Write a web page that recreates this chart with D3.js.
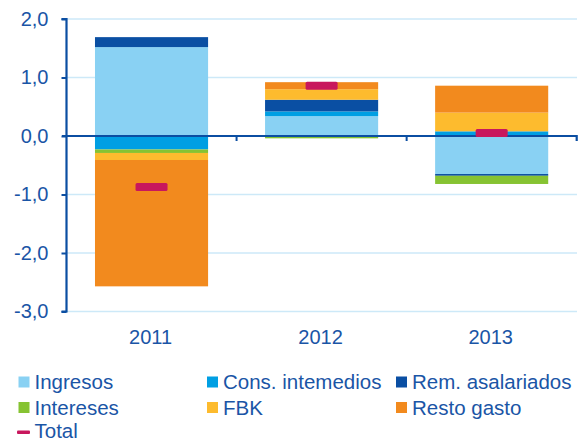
<!DOCTYPE html>
<html>
<head>
<meta charset="utf-8">
<script src="https://cdn.jsdelivr.net/npm/d3@7"></script>
<style>
  html, body { margin: 0; padding: 0; background: #ffffff; }
  svg { display: block; }
  text { font-family: "Liberation Sans", Arial, sans-serif; }
</style>
</head>
<body>
<svg id="chart" width="579" height="442"></svg>
<script>
// ---- Data ----
const years = ["2011", "2012", "2013"];
const seriesNames = ["Ingresos", "Cons. intemedios", "Rem. asalariados", "Intereses", "FBK", "Resto gasto"];
const ingresos     = [1.52, 0.34, -0.65];
const consInterm   = [-0.23, 0.08, 0.08];
const remAsal      = [0.17, 0.20, -0.03];
const intereses    = [-0.06, -0.04, -0.14];
const fbk          = [-0.12, 0.18, 0.32];
const restoGasto   = [-2.16, 0.12, 0.46];
const total        = [-0.87, 0.86, 0.05];
const yTicks = [2, 1, 0, -1, -2, -3];
const yTickLabels = ["2,0", "1,0", "0,0", "-1,0", "-2,0", "-3,0"];

const colors = ["#89d1f3", "#009fe3", "#0a4fa3", "#86c332", "#fdbb2e", "#f28a1e"];
const totalColor = "#c8175d";
const textColor = "#1a55a6";
const axisColor = "#0b4ea2";
const gridColor = "#cde9f8";

const seriesValues = [ingresos, consInterm, remAsal, intereses, fbk, restoGasto];
const table = years.map((y, i) => {
  const row = { year: y };
  seriesNames.forEach((s, k) => row[s] = seriesValues[k][i]);
  return row;
});

const svg = d3.select("#chart");

const x = d3.scaleBand().domain(years).range([66.5, 576.7]).paddingInner(0.335).paddingOuter(0.1675);
const xCat = d3.scaleBand().domain(years).range([66.5, 576.7]).padding(0);
const y = d3.scaleLinear().domain([-3, 2]).range([311.5, 19]);

// gridlines
svg.append("g").selectAll("line").data(yTicks.filter(t => t !== 0)).join("line")
  .attr("x1", 66.5).attr("x2", 577)
  .attr("y1", d => y(d)).attr("y2", d => y(d))
  .attr("stroke", gridColor).attr("stroke-width", 1.5);

// stacked bars
const stack = d3.stack().keys(seriesNames).offset(d3.stackOffsetDiverging);
const stacked = stack(table);
svg.append("g").selectAll("g").data(stacked).join("g")
  .attr("fill", (d, i) => colors[i])
  .selectAll("rect").data(d => d).join("rect")
  .attr("x", d => x(d.data.year))
  .attr("width", x.bandwidth())
  .attr("y", d => y(Math.max(d[0], d[1])))
  .attr("height", d => Math.abs(y(d[0]) - y(d[1])));

// y axis
const yAxis = svg.append("g").attr("transform", "translate(66.5,0)")
  .call(d3.axisLeft(y).tickValues(yTicks).tickSize(5).tickPadding(13)
    .tickFormat((d, i) => yTickLabels[i]));
yAxis.select(".domain").attr("stroke", axisColor).attr("stroke-width", 2.2)
  .attr("d", `M-5,${y(2)}H0V${y(-3)}H-5`);
yAxis.selectAll(".tick line").attr("stroke", axisColor).attr("stroke-width", 2);
yAxis.selectAll(".tick text").attr("fill", textColor).attr("font-size", 20)
  .attr("font-family", '"Liberation Sans", Arial, sans-serif');

// zero axis with category ticks
const xAxis = svg.append("g").attr("transform", `translate(0,${y(0)})`)
  .call(d3.axisBottom(xCat).tickSize(0).tickFormat(""));
xAxis.select(".domain").attr("stroke", axisColor).attr("stroke-width", 2.2)
  .attr("d", `M62,0H576.7V5`);
svg.append("g").selectAll("line").data(years.slice(1)).join("line")
  .attr("x1", d => xCat(d)).attr("x2", d => xCat(d))
  .attr("y1", y(0)).attr("y2", y(0) + 5)
  .attr("stroke", axisColor).attr("stroke-width", 2);

// category labels
svg.append("g").selectAll("text").data(years).join("text")
  .attr("x", d => xCat(d) + xCat.bandwidth() / 2 - 1)
  .attr("y", 344)
  .attr("text-anchor", "middle")
  .attr("fill", textColor).attr("font-size", 20)
  .text(d => d);

// total markers
svg.append("g").selectAll("rect").data(years).join("rect")
  .attr("x", d => x(d) + x.bandwidth() / 2 - 16)
  .attr("y", (d, i) => y(total[i]) - 4)
  .attr("width", 32).attr("height", 8)
  .attr("rx", 1.5)
  .attr("fill", totalColor);

// legend
const legendItems = [
  { name: "Ingresos", color: colors[0], cx: 18.5, row: 0 },
  { name: "Cons. intemedios", color: colors[1], cx: 207, row: 0 },
  { name: "Rem. asalariados", color: colors[2], cx: 396, row: 0 },
  { name: "Intereses", color: colors[3], cx: 18.5, row: 1 },
  { name: "FBK", color: colors[4], cx: 207, row: 1 },
  { name: "Resto gasto", color: colors[5], cx: 396, row: 1 },
  { name: "Total", color: totalColor, cx: 18.5, row: 2, line: true }
];
const rowY = [389, 414.5, 438];
const lg = svg.append("g");
legendItems.forEach(it => {
  const by = rowY[it.row];
  if (it.line) {
    lg.append("rect").attr("x", it.cx - 1.5).attr("y", by - 7.5).attr("width", 13).attr("height", 3.5)
      .attr("rx", 1).attr("fill", it.color);
  } else {
    lg.append("rect").attr("x", it.cx).attr("y", by - 12.5).attr("width", 11).attr("height", 11)
      .attr("fill", it.color);
  }
  lg.append("text").attr("x", it.cx + 16).attr("y", by)
    .attr("fill", textColor).attr("font-size", 20.5)
    .text(it.name);
});
</script>
</body>
</html>
